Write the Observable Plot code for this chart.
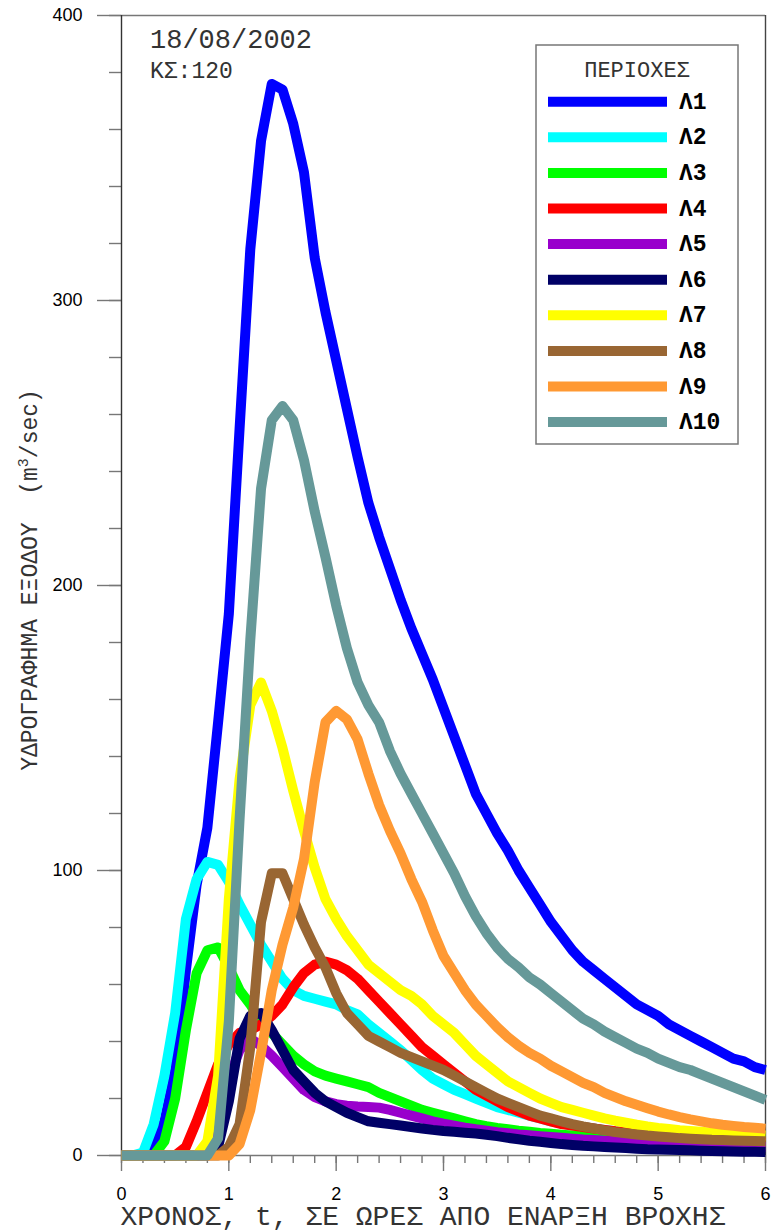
<!DOCTYPE html>
<html>
<head>
<meta charset="utf-8">
<script src="https://cdn.jsdelivr.net/npm/d3@7"></script>
<script src="https://cdn.jsdelivr.net/npm/@observablehq/plot@0.6"></script>
<style>
  html, body { margin: 0; padding: 0; background: #fff; }
  #chart { position: relative; width: 771px; height: 1232px; }
</style>
</head>
<body>
<div id="chart"></div>
<script>
// ---- DATA ----
const times = [0,0.1,0.2,0.3,0.4,0.5,0.6,0.7,0.8,0.9,
  1.0,1.1,1.2,1.3,1.4,1.5,1.6,1.7,1.8,1.9,
  2.0,2.1,2.2,2.3,2.4,2.5,2.6,2.7,2.8,2.9,
  3.0,3.1,3.2,3.3,3.4,3.5,3.6,3.7,3.8,3.9,
  4.0,4.1,4.2,4.3,4.4,4.5,4.6,4.7,4.8,4.9,
  5.0,5.1,5.2,5.3,5.4,5.5,5.6,5.7,5.8,5.9,6.0];

const seriesNames = ["Λ1","Λ2","Λ3","Λ4","Λ5","Λ6","Λ7","Λ8","Λ9","Λ10"];
const seriesColors = ["#0000ff","#00ffff","#00ff00","#ff0000","#9900cc","#000066","#ffff00","#996633","#ff9933","#669999"];

const L1 = [0,0,0,3,12,30,65,95,115,152,
  190,255,318,356,376,374,362,345,315,296,
  279,262,245,229,217,206,195,185,176,167,
  157,147,137,127,120,113,107,100,94,88,
  82,77,72,68,65,62,59,56,53,51,
  49,46,44,42,40,38,36,34,33,31,30];
const L2 = [0,0,1,11,28,50,83,97,103,102,
  96,88,81,74,68,62,58,56,55,54,
  53,51,49.5,46,43,40,37,33.5,30,27,
  25,23,21.5,20,18.5,17,16,15,14,13,
  12,11.2,10.6,10,9.5,9,8.5,8.1,7.7,7.3,
  7,6.7,6.4,6.1,5.8,5.5,5.2,4.9,4.6,4.3,4];
const L3 = [0,0,0,0,5,20,44,64,72,73,
  66,58,53,47,43,39,35,32,29.5,28,
  27,26,25,24,22,20.5,19,17.5,16,15,
  14,13,12,11,10.3,9.7,9.2,8.7,8.3,7.9,
  7.6,7.3,7,6.7,6.5,6.2,6,5.8,5.6,5.4,
  5.2,5.1,4.9,4.8,4.6,4.5,4.3,4.2,4.1,3.9,3.8];
const L4 = [0,0,0,0,0,0,3,12,22,32,
  39,43,44,46,49,53,59,64,67,68,
  67,65,62,58,54,50,46,42,38,35,
  32,29,26,23,21,19,17,15.5,14,13,
  12,11,10.5,10,9.5,9,8.5,8.1,7.7,7.3,
  7,6.7,6.4,6.1,5.8,5.6,5.3,5.1,4.9,4.7,4.5];
const L5 = [0,0,0,0,0,0,0,0,4,14,
  27,37,41,38.5,35,31,27,23,20.5,19,
  18,17.5,17.2,17,16.8,16,15,14,13,12,
  11.2,10.5,9.8,9.2,8.7,8.2,7.8,7.4,7.1,6.8,
  6.5,6.2,5.9,5.6,5.4,5.2,5,4.8,4.6,4.4,
  4.2,4.1,3.9,3.8,3.6,3.5,3.4,3.3,3.2,3.1,3];
const L6 = [0,0,0,0,0,0,0,0,0,3,
  19,41,49,50,44,37,30,26,22,19,
  17,15,13.5,12,11.5,11,10.5,10,9.5,9,
  8.6,8.3,8,7.7,7.3,6.8,6.2,5.7,5.2,4.8,
  4.4,4,3.7,3.4,3.2,3,2.8,2.6,2.4,2.2,
  2.1,2,1.9,1.8,1.7,1.6,1.5,1.4,1.35,1.3,1.2];
const L7 = [0,0,0,0,0,0,0,0,5,28,
  90,132,158,166,156,143,128,114,101,90,
  83,77,72,67,64,61,58,56,53,49,
  46,43,39,35,32,29,26,24,22,20,
  18.5,17,16,15,14,13,12.2,11.5,10.8,10.2,
  9.7,9.3,8.9,8.6,8.3,8,7.8,7.6,7.4,7.2,7];
const L8 = [0,0,0,0,0,0,0,0,0,0,
  3,11,38,82,99,99,90,81,73,66,
  57,50,46,42,40,38,36,34.5,33,31.5,
  30,28,26,24,22,20,18.5,17,15.5,14,
  13,12,11,10.2,9.5,8.8,8.2,7.8,7.4,7,
  6.7,6.4,6.1,5.9,5.7,5.5,5.4,5.3,5.2,5.1,5];
const L9 = [0,0,0,0,0,0,0,0,0,0,
  0,4,16,36,58,74,87,104,131,152,
  156,153,146,134,123,114,106,97,89,79,
  70,64,58,53,49,45,41.5,38.5,36,34,
  31.5,29.5,27.5,25.5,24,22,20.5,19,17.8,16.6,
  15.4,14.4,13.5,12.7,12,11.3,10.8,10.4,10,9.7,9.4];
const L10 = [0,0,0,0,0,0,0,0,0,6,
  47,118,181,234,258,263,258,244,226,210,
  193,178,166,158,152,142,134,127,120,113,
  106,99,91,84,78,73,69,66,62.5,60,
  57,54,51,48,46,43.5,41.5,39.5,37.5,36,
  34,32.5,31,30,28.5,27,25.5,24,22.5,21,19.5];

const seriesValues = [L1,L2,L3,L4,L5,L6,L7,L8,L9,L10];

const yMajorTicks = [0,100,200,300,400];
const yMinorTicks = [0,20,40,60,80,100,120,140,160,180,200,220,240,260,280,300,320,340,360,380,400];
const xMajorTicks = [0,1,2,3,4,5,6];
const xMinorTicks = [0,0.2,0.4,0.6,0.8,1,1.2,1.4,1.6,1.8,2,2.2,2.4,2.6,2.8,3,3.2,3.4,3.6,3.8,4,4.2,4.4,4.6,4.8,5,5.2,5.4,5.6,5.8,6];

const xTitle = "ΧΡΟΝΟΣ, t, ΣΕ ΩΡΕΣ ΑΠΟ ΕΝΑΡΞΗ ΒΡΟΧΗΣ";
const yTitleMain = "ΥΔΡΟΓΡΑΦΗΜΑ ΕΞΟΔΟΥ  (m";
const yTitleSup = "3";
const yTitleEnd = "/sec)";
const annDate = "18/08/2002";
const annKS = "ΚΣ:120";
const legendTitle = "ΠΕΡΙΟΧΕΣ";

// ---- BUILD ----
const rows = seriesNames.map((name, k) => times.map((t, i) => ({t, q: seriesValues[k][i], s: name})));

const mono = "'Liberation Mono', 'Courier New', monospace";
const sans = "'Liberation Sans', Arial, sans-serif";
const tickGray = "#777";

const svg = Plot.plot({
  width: 771,
  height: 1232,
  marginLeft: 121,
  marginRight: 6,
  marginTop: 15,
  marginBottom: 77,
  x: {domain: [0, 6]},
  y: {domain: [0, 400]},
  style: {background: "#fff", fontFamily: sans, fontSize: "18px", color: "#000"},
  marks: [
    Plot.axisY(yMinorTicks, {tickSize: 12, tickFormat: () => "", stroke: tickGray, strokeWidth: 1.4, label: null}),
    Plot.axisY(yMajorTicks, {tickSize: 24, tickPadding: 15, stroke: tickGray, strokeWidth: 1.4, fill: "#000", fontSize: 18, label: null}),
    Plot.axisX(xMinorTicks, {tickSize: 8, tickFormat: () => "", stroke: tickGray, strokeWidth: 1.4, label: null}),
    Plot.axisX(xMajorTicks, {tickSize: 16, tickPadding: 16, stroke: tickGray, strokeWidth: 1.4, fill: "#000", fontSize: 18, label: null}),
    Plot.ruleY([400], {stroke: tickGray, strokeWidth: 1.4}),
    Plot.ruleX([6], {stroke: "#444", strokeWidth: 1.4}),
    Plot.ruleY([0], {stroke: tickGray, strokeWidth: 1.4}),
    Plot.ruleX([0], {stroke: "#333", strokeWidth: 1.4}),
    ...rows.map((r, k) => Plot.line(r, {x: "t", y: "q", stroke: seriesColors[k], strokeWidth: 10, strokeLinejoin: "round", strokeLinecap: "butt"}))
  ]
});

document.getElementById("chart").appendChild(svg);

const s = d3.select(svg);
// annotations
s.append("text").attr("x", 150).attr("y", 48).attr("text-anchor", "start").attr("font-family", mono).attr("font-size", 27).attr("fill", "#333").text(annDate);
s.append("text").attr("x", 150).attr("y", 78).attr("text-anchor", "start").attr("font-family", mono).attr("font-size", 23).attr("fill", "#333").text(annKS);

// x title
s.append("text").attr("x", 423).attr("y", 1225).attr("text-anchor", "middle")
  .attr("font-family", mono).attr("font-size", 28).attr("fill", "#333").text(xTitle);

// y title
const yt = s.append("text").attr("transform", "translate(37,580) rotate(-90)").attr("text-anchor", "middle")
  .attr("font-family", mono).attr("font-size", 23).attr("fill", "#333");
yt.append("tspan").text(yTitleMain);
yt.append("tspan").attr("font-size", 15).attr("dy", -9).text(yTitleSup);
yt.append("tspan").attr("dy", 9).text(yTitleEnd);

// legend
const lg = s.append("g");
lg.append("rect").attr("x", 536).attr("y", 45).attr("width", 202).attr("height", 399)
  .attr("fill", "#fff").attr("stroke", "#777").attr("stroke-width", 1.5);
lg.append("text").attr("x", 637).attr("y", 77).attr("text-anchor", "middle")
  .attr("font-family", mono).attr("font-size", 22).attr("fill", "#333").text(legendTitle);
seriesNames.forEach((name, k) => {
  const yy = 101.7 + k * 35.6;
  lg.append("line").attr("x1", 548).attr("x2", 667).attr("y1", yy).attr("y2", yy)
    .attr("stroke", seriesColors[k]).attr("stroke-width", 10);
  lg.append("text").attr("x", 679).attr("y", yy + 7).attr("text-anchor", "start").attr("font-family", mono)
    .attr("font-weight", "bold").attr("font-size", 23).attr("fill", "#000").text(name);
});
</script>
</body>
</html>
